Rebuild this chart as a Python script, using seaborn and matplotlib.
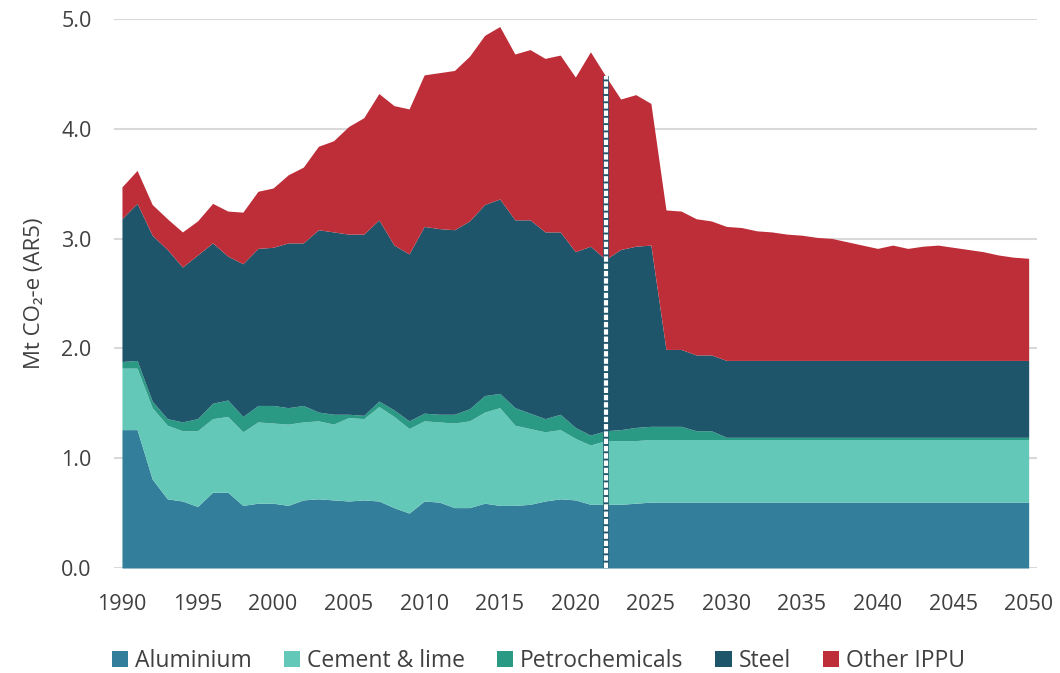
import matplotlib
matplotlib.use("Agg")
import matplotlib.pyplot as plt
import seaborn as sns
import numpy as np

years = list(range(1990, 2051))

aluminium = [1.26, 1.26, 0.81, 0.63, 0.61, 0.56, 0.69, 0.69, 0.57, 0.59,
             0.59, 0.57, 0.62, 0.63, 0.62, 0.61, 0.62, 0.61, 0.55, 0.50,
             0.61, 0.60, 0.55, 0.55, 0.59, 0.57, 0.57, 0.58, 0.61, 0.63,
             0.62, 0.58, 0.58, 0.58, 0.59] + [0.60] * 26

cement_lime = [0.56, 0.56, 0.65, 0.67, 0.64, 0.69, 0.67, 0.69, 0.67, 0.74,
               0.73, 0.74, 0.71, 0.71, 0.69, 0.76, 0.74, 0.86, 0.83, 0.77,
               0.73, 0.73, 0.77, 0.79, 0.83, 0.89, 0.73, 0.69, 0.63, 0.63,
               0.56, 0.54, 0.58, 0.58, 0.57] + [0.57] * 26

petrochemicals = [0.06, 0.07, 0.06, 0.06, 0.08, 0.11, 0.14, 0.15, 0.14, 0.15,
                  0.16, 0.15, 0.15, 0.08, 0.09, 0.03, 0.03, 0.05, 0.06, 0.07,
                  0.07, 0.07, 0.08, 0.11, 0.15, 0.13, 0.16, 0.14, 0.12, 0.14,
                  0.10, 0.09, 0.09, 0.10, 0.12, 0.12, 0.12, 0.12, 0.08, 0.08] + [0.02] * 21

steel = [1.30, 1.43, 1.51, 1.54, 1.41, 1.49, 1.46, 1.31, 1.39, 1.43,
         1.44, 1.50, 1.48, 1.66, 1.66, 1.64, 1.65, 1.65, 1.50, 1.52,
         1.70, 1.69, 1.68, 1.71, 1.74, 1.77, 1.71, 1.76, 1.70, 1.66,
         1.60, 1.72, 1.56, 1.64, 1.65, 1.65, 0.70, 0.70, 0.69, 0.69] + [0.70] * 21

other_ippu = [0.29, 0.30, 0.28, 0.28, 0.32, 0.31, 0.36, 0.41, 0.47, 0.52,
              0.54, 0.62, 0.69, 0.76, 0.83, 0.98, 1.06, 1.15, 1.27, 1.32,
              1.38, 1.42, 1.45, 1.50, 1.54, 1.57, 1.51, 1.55, 1.58, 1.61,
              1.59, 1.77, 1.67, 1.37, 1.38, 1.29, 1.27, 1.26, 1.24, 1.22,
              1.22, 1.21, 1.18, 1.17, 1.15, 1.14, 1.12, 1.11, 1.08, 1.05,
              1.02, 1.05, 1.02, 1.04, 1.05, 1.03, 1.01, 0.99, 0.96, 0.94, 0.93]

labels = ["Aluminium", "Cement & lime", "Petrochemicals", "Steel", "Other IPPU"]
colors = ["#337E9A", "#63C8B7", "#2B9A85", "#1E556B", "#BE2E39"]
projection_start = 2022

sns.set_style("white")
plt.rcParams['font.family'] = ['Open Sans', 'DejaVu Sans']

fig = plt.figure(figsize=(10.6, 6.73), dpi=100)
ax = fig.add_axes([0.1075, 0.156, 0.8705, 0.816])

series = [aluminium, cement_lime, petrochemicals, steel, other_ippu]
ax.stackplot(years, *series, labels=labels, colors=colors, linewidth=0, zorder=2)

# dashed marker for the last historical year
total = np.sum(series, axis=0)
top = total[years.index(projection_start)]
ax.vlines(projection_start, 0, top, colors="#1E556B", linewidth=4, zorder=3)
ax.vlines(projection_start, 0, top, colors="white", linewidth=3,
          linestyles=(0, (1.3, 0.45)), zorder=4)

ax.set_xlim(1989.47, 2050.53)
ax.set_ylim(0, 5)
ax.set_xticks(range(1990, 2051, 5))
ax.set_yticks(np.arange(0, 5.01, 1.0))
ax.set_yticklabels([f"{v:.1f}" for v in np.arange(0, 5.01, 1.0)])
ax.yaxis.grid(True, color="#D9D9D9", linewidth=1.5, zorder=0)
ax.set_axisbelow(True)
for s in ax.spines.values():
    s.set_visible(False)
ax.tick_params(axis="both", length=0, labelsize=15.5, colors="#404040")
ax.tick_params(axis="x", pad=19)
ax.tick_params(axis="y", pad=16)
ax.set_ylabel("Mt CO₂-e (AR5)", fontsize=16, color="#404040", labelpad=12)

fig.legend(loc="lower center", bbox_to_anchor=(0.508, -0.03), ncol=5, frameon=False,
           fontsize=16.5, handlelength=0.7, handleheight=0.7, handletextpad=0.3,
           columnspacing=1.4, labelcolor="#404040")

fig.savefig("out.png", dpi=100)
